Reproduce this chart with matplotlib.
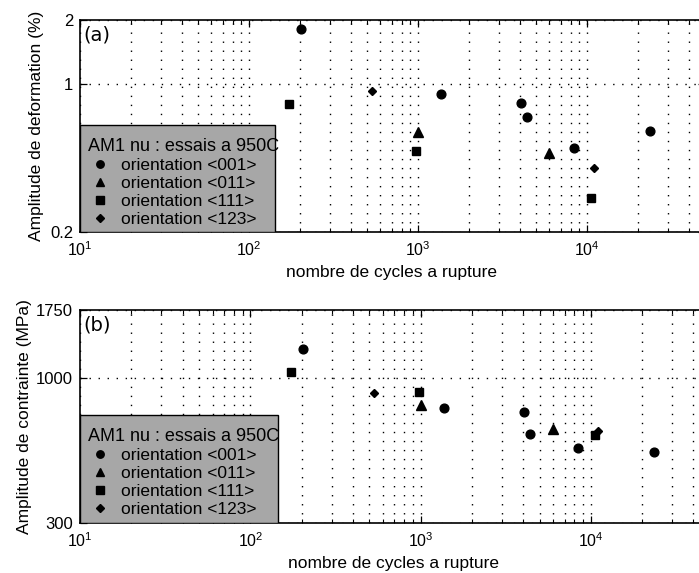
import matplotlib
matplotlib.use("Agg")
import matplotlib.pyplot as plt
import matplotlib.patches as mpatches
from matplotlib.lines import Line2D
from matplotlib.ticker import LogLocator, FixedLocator, FixedFormatter, NullFormatter

plt.rcParams['font.family'] = ['Liberation Sans', 'DejaVu Sans']
plt.rcParams['mathtext.fontset'] = 'custom'
plt.rcParams['mathtext.rm'] = 'Liberation Sans'
plt.rcParams['mathtext.it'] = 'Liberation Sans:italic'

# cycles to failure, one list per orientation (same specimens in both panels)
n_001 = [203, 1370, 4050, 4400, 8400, 23500]
n_011 = [1000, 6000]
n_111 = [173, 975, 10600]
n_123 = [535, 11000]

# (a) strain amplitude (%)
eps_001 = [1.81, 0.90, 0.81, 0.70, 0.50, 0.60]
eps_011 = [0.59, 0.47]
eps_111 = [0.80, 0.48, 0.29]
eps_123 = [0.92, 0.40]

# (b) stress amplitude (MPa)
sig_001 = [1265, 775, 750, 629, 556, 542]
sig_011 = [794, 656]
sig_111 = [1045, 890, 620]
sig_123 = [878, 640]

labels = ['orientation <001>', 'orientation <011>', 'orientation <111>', 'orientation <123>']
markers = ['o', '^', 's', 'D']
msizes = [6.3, 7, 6, 4.5]
legend_title = 'AM1 nu : essais a 950C'

W, H = 699, 573
fig = plt.figure(figsize=(W / 100, H / 100), dpi=100)
fig.patch.set_facecolor('white')


def px_axes(left, top, right, bottom):
    return fig.add_axes([left / W, 1 - bottom / H, (right - left) / W, (bottom - top) / H])


def draw_panel(ax, ys, ylim, yticks, ylabel, ylab_x, tag, box_top):
    for n, y, m, s in zip([n_001, n_011, n_111, n_123], ys, markers, msizes):
        ax.plot(n, y, linestyle='none', marker=m, markersize=s, color='black', zorder=5)
    ax.set_xscale('log')
    ax.set_yscale('log')
    ax.set_xlim(10, 5e4)
    ax.set_ylim(*ylim)

    ax.xaxis.set_major_locator(LogLocator(base=10, numticks=10))
    ax.xaxis.set_minor_locator(LogLocator(base=10, subs=range(2, 10), numticks=20))
    ax.xaxis.set_minor_formatter(NullFormatter())
    ax.yaxis.set_major_locator(FixedLocator(yticks))
    ax.yaxis.set_major_formatter(FixedFormatter([('%g' % v) for v in yticks]))
    ax.yaxis.set_minor_locator(FixedLocator([]))

    grid_kw = dict(color='black', linestyle=(0, (1, 5.5)), linewidth=1.0)
    ax.grid(True, which='both', axis='x', **grid_kw)
    ax.grid(True, which='major', axis='y', **grid_kw)

    ax.tick_params(which='both', direction='in', top=True, right=True, color='black')
    ax.tick_params(which='major', length=5, width=0.9)
    ax.tick_params(which='minor', length=3, width=0.8)
    ax.tick_params(axis='x', labelsize=11.5, pad=6)
    ax.tick_params(axis='y', labelsize=12, pad=5)
    for sp in ax.spines.values():
        sp.set_linewidth(1.2)

    ax.set_xlabel('nombre de cycles a rupture', fontsize=12.5)
    ax.xaxis.set_label_coords((391 - 80) / 625, -0.155)
    ax.set_ylabel(ylabel, fontsize=12.5)
    ax.yaxis.set_label_coords(ylab_x, 0.5)

    ax.text(0.005, 0.93, tag, transform=ax.transAxes, fontsize=14,
            family='DejaVu Sans', va='center', ha='left', zorder=6)

    # grey legend block in the lower left corner
    box = mpatches.Rectangle((0, 0), box_top[0], box_top[1], transform=ax.transAxes,
                             facecolor='#a7a7a7', edgecolor='black', linewidth=1.0, zorder=4)
    ax.add_patch(box)
    handles = [Line2D([], [], linestyle='none', marker=m, markersize=s * 0.85, color='black')
               for m, s in zip(markers, msizes)]
    leg = ax.legend(handles, labels, title=legend_title, alignment='left',
                    loc='upper left', bbox_to_anchor=(0.013, box_top[1] - 0.06),
                    frameon=False, fontsize=12.5, title_fontsize=13,
                    handlelength=1.4, handletextpad=0.5, labelspacing=0.17,
                    borderpad=0, borderaxespad=0)
    leg.set_zorder(6)


ax_a = px_axes(80, 20, 705, 232)
draw_panel(ax_a, [eps_001, eps_011, eps_111, eps_123], (0.2, 2), [0.2, 1, 2],
           'Amplitude de deformation (%)', -0.058, '(a)',
           ((275 - 80) / 625, (232 - 125) / 212))

ax_b = px_axes(80, 310, 710, 523)
draw_panel(ax_b, [sig_001, sig_011, sig_111, sig_123], (300, 1750), [300, 1000, 1750],
           'Amplitude de contrainte (MPa)', -0.076, '(b)',
           ((278 - 80) / 630, (523 - 415) / 213))

fig.savefig('out.png', dpi=100)
